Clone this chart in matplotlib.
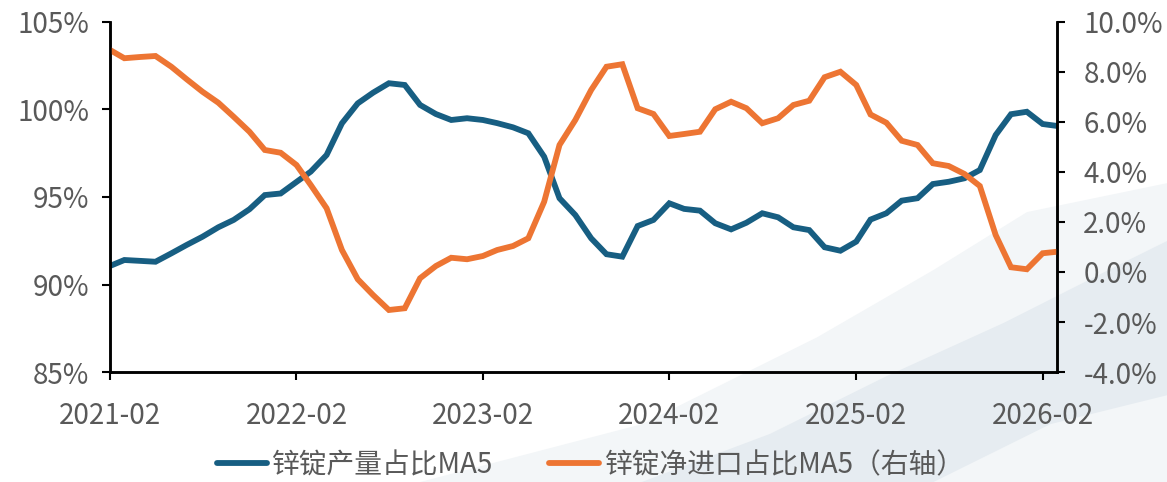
import matplotlib
matplotlib.use("Agg")
import matplotlib.pyplot as plt
import matplotlib.dates as mdates
from matplotlib.patches import Polygon
from matplotlib.ticker import FuncFormatter, MultipleLocator
import pandas as pd

plt.rcParams["font.family"] = ["Noto Sans CJK SC", "DejaVu Sans"]

# monthly, 2021-02 .. 2026-03
months = pd.date_range("2021-02-01", "2026-03-01", freq="MS")

# 锌锭产量占比 MA5 (%)
output_share = [
    91.06, 91.40, 91.35, 91.30, 91.78, 92.26, 92.73, 93.27, 93.69, 94.30,
    95.11, 95.20, 95.86, 96.45, 97.40, 99.21, 100.35, 100.96, 101.50, 101.40,
    100.26, 99.74, 99.40, 99.50, 99.40, 99.22, 98.98, 98.64, 97.30, 94.93,
    93.97, 92.64, 91.73, 91.59, 93.34, 93.69, 94.64, 94.32, 94.22, 93.50,
    93.15, 93.53, 94.07, 93.84, 93.27, 93.11, 92.13, 91.93, 92.45, 93.71,
    94.07, 94.79, 94.93, 95.74, 95.87, 96.07, 96.54, 98.54, 99.73, 99.87,
    99.17, 99.06,
]

# 锌锭净进口占比 MA5 (%, right axis)
net_import_share = [
    8.88, 8.55, 8.60, 8.64, 8.21, 7.71, 7.21, 6.77, 6.21, 5.61,
    4.88, 4.77, 4.28, 3.48, 2.55, 0.88, -0.29, -0.92, -1.52, -1.45,
    -0.25, 0.24, 0.57, 0.51, 0.64, 0.88, 1.04, 1.35, 2.81, 5.08,
    6.08, 7.28, 8.21, 8.31, 6.55, 6.32, 5.44, 5.52, 5.61, 6.51,
    6.81, 6.55, 5.95, 6.15, 6.68, 6.85, 7.79, 8.01, 7.48, 6.30,
    5.97, 5.25, 5.08, 4.35, 4.24, 3.92, 3.44, 1.48, 0.19, 0.11,
    0.75, 0.81,
]

series_names = ["锌锭产量占比MA5", "锌锭净进口占比MA5（右轴）"]

BLUE = "#175e82"
ORANGE = "#ed7533"
GREY = "#595959"

fig = plt.figure(figsize=(11.67, 4.82), dpi=100)

# faint landscape in the lower right of the background
fig.patches.append(Polygon(
    [(0.36, 0.0), (0.55, 0.12), (0.70, 0.30), (0.80, 0.44), (0.88, 0.56),
     (1.0, 0.62), (1.0, 0.0)],
    closed=True, transform=fig.transFigure, facecolor="#f3f6f8",
    edgecolor="none", zorder=-2))
fig.patches.append(Polygon(
    [(0.55, 0.0), (0.66, 0.10), (0.76, 0.22), (0.86, 0.33), (0.95, 0.44),
     (1.0, 0.50), (1.0, 0.18), (0.90, 0.12), (0.80, 0.0)],
    closed=True, transform=fig.transFigure, facecolor="#e6ecf1",
    edgecolor="none", zorder=-1))

ax = fig.add_axes([0.0943, 0.2282, 0.8114, 0.7262])
ax.patch.set_visible(False)
ax2 = ax.twinx()
ax2.patch.set_visible(False)

l1, = ax.plot(months, output_share, color=BLUE, lw=4.2,
              solid_joinstyle="miter", label=series_names[0])
l2, = ax2.plot(months, net_import_share, color=ORANGE, lw=4.2,
               solid_joinstyle="miter", label=series_names[1])

ax.set_xlim(months[0], months[-1])
ax.set_ylim(85, 105)
ax2.set_ylim(-4, 10)
ax.yaxis.set_major_locator(MultipleLocator(5))
ax2.yaxis.set_major_locator(MultipleLocator(2))
ax.yaxis.set_major_formatter(FuncFormatter(lambda v, _: f"{v:.0f}%"))
ax2.yaxis.set_major_formatter(FuncFormatter(lambda v, _: f"{v:.1f}%"))

ax.xaxis.set_major_locator(mdates.MonthLocator(bymonth=2))
ax.xaxis.set_major_formatter(mdates.DateFormatter("%Y-%m"))

for a in (ax, ax2):
    a.spines["top"].set_visible(False)
    for s in ("left", "right", "bottom"):
        a.spines[s].set_linewidth(1.8)
        a.spines[s].set_color("black")
    a.tick_params(axis="both", direction="out", length=6, width=1.5,
                  color="black", labelsize=20, labelcolor=GREY)
ax.tick_params(axis="y", pad=9)
ax.tick_params(axis="x", pad=15)
ax2.tick_params(axis="y", pad=13)

leg = fig.legend(handles=[l1, l2], loc="lower center",
                 bbox_to_anchor=(0.506, -0.048), ncol=2, frameon=False,
                 fontsize=20, handlelength=1.8, handletextpad=0.2,
                 columnspacing=2.0, labelcolor=GREY)
for h in leg.get_lines():
    h.set_solid_capstyle("round")

fig.savefig("out.png", dpi=100)
